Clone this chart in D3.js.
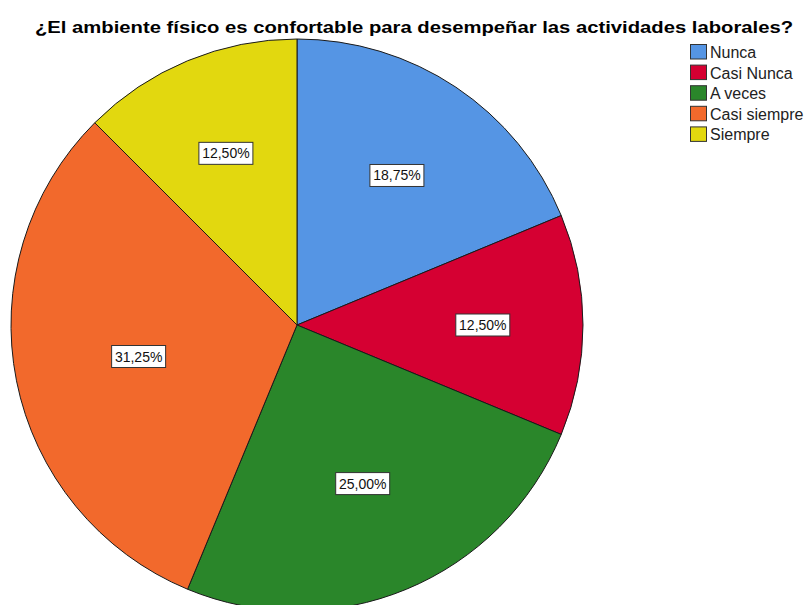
<!DOCTYPE html>
<html>
<head>
<meta charset="utf-8">
<script src="https://cdn.jsdelivr.net/npm/d3@7"></script>
<style>
  body { margin: 0; background: #fff; }
  text { font-family: Arial, "Liberation Sans", sans-serif; }
</style>
</head>
<body>
<div id="chart"></div>
<script>
const width = 806
const height = 605

// Datos
const categories = ["Nunca", "Casi Nunca", "A veces", "Casi siempre", "Siempre"]
const percents = [18.75, 12.5, 25, 31.25, 12.5]
const labels = ["18,75%", "12,50%", "25,00%", "31,25%", "12,50%"]
const colors = ["#5595e4", "#d50032", "#2a862a", "#f2692c", "#e2d80f"]
const title = "¿El ambiente físico es confortable para desempeñar las actividades laborales?"

const cx = 297, cy = 325, radius = 286

const svg = d3.select("#chart")
  .append("svg")
  .attr("width", width)
  .attr("height", height)

// Titulo
svg.append("text")
  .attr("x", 414)
  .attr("y", 33)
  .attr("text-anchor", "middle")
  .attr("font-size", 17)
  .attr("font-weight", "bold")
  .attr("textLength", 758)
  .attr("lengthAdjust", "spacingAndGlyphs")
  .text(title)

const color = d3.scaleOrdinal().domain(categories).range(colors)

const pie = d3.pie().sort(null).value(d => d.value)
const arc = d3.arc().innerRadius(0).outerRadius(radius)

const data = categories.map((c, i) => ({ name: c, value: percents[i], label: labels[i] }))
const arcs = pie(data)

const pieGroup = svg.append("g")
  .attr("transform", `translate(${cx}, ${cy})`)

pieGroup.selectAll("path").data(arcs)
  .enter()
  .append("path")
    .attr("d", arc)
    .attr("fill", d => color(d.data.name))
    .attr("stroke", "#1a1a1a")
    .attr("stroke-width", 1)

// Etiquetas en el centroide de cada sector
const labelGroup = pieGroup.selectAll("g.label").data(arcs)
  .enter()
  .append("g")
    .attr("class", "label")
    .attr("transform", d => {
      const a = d.endAngle - d.startAngle
      const mid = (d.startAngle + d.endAngle) / 2
      const rc = 4 * radius * Math.sin(a / 2) / (3 * a)
      return `translate(${Math.sin(mid) * rc}, ${-Math.cos(mid) * rc})`
    })

labelGroup.append("rect")
  .attr("x", -27)
  .attr("y", -11)
  .attr("width", 54)
  .attr("height", 22)
  .attr("fill", "#fff")
  .attr("stroke", "#333")
  .attr("stroke-width", 1)

labelGroup.append("text")
  .attr("text-anchor", "middle")
  .attr("y", 5)
  .attr("font-size", 14)
  .attr("fill", "#111")
  .text(d => d.data.label)

// Leyenda
const legend = svg.append("g")
  .attr("transform", "translate(690, 44)")

const rows = legend.selectAll("g").data(categories)
  .enter()
  .append("g")
    .attr("transform", (d, i) => `translate(0, ${i * 20.6})`)

rows.append("rect")
  .attr("x", 0.5)
  .attr("y", 0.5)
  .attr("width", 16)
  .attr("height", 14.5)
  .attr("fill", d => color(d))
  .attr("stroke", "#333")
  .attr("stroke-width", 1)

rows.append("text")
  .attr("x", 20)
  .attr("y", 14)
  .attr("font-size", 16)
  .attr("fill", "#222")
  .text(d => d)
</script>
</body>
</html>
